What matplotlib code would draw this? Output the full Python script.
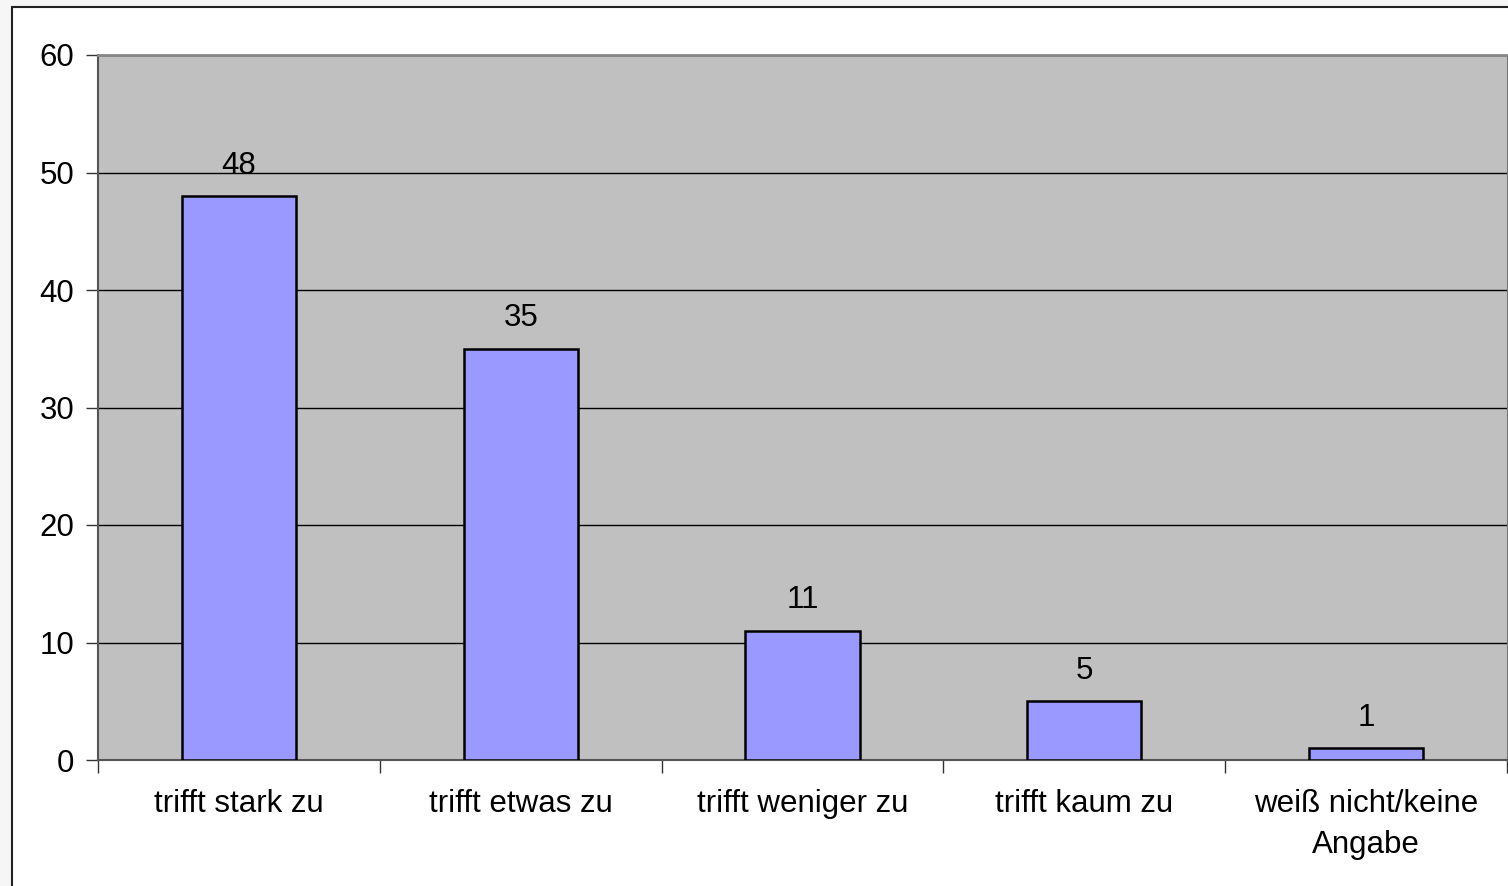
import matplotlib.pyplot as plt
from matplotlib.patches import Rectangle

# Data
categories = ["trifft stark zu", "trifft etwas zu", "trifft weniger zu",
              "trifft kaum zu", "weiß nicht/keine\nAngabe"]
values = [48, 35, 11, 5, 1]
yticks = [0, 10, 20, 30, 40, 50, 60]

plt.rcParams['font.family'] = ['Liberation Sans', 'DejaVu Sans']
FS = 22.5

fig = plt.figure(figsize=(15.08, 8.86), dpi=100, facecolor='#f6f6f6')

# white chart frame
frame = Rectangle((12 / 1508, -0.1), 1.2, (886 - 7) / 886 + 0.1,
                  transform=fig.transFigure, facecolor='white',
                  edgecolor='#222222', linewidth=1.5, zorder=-5)
fig.patches.append(frame)

ax = fig.add_axes([98 / 1508, 1 - 760 / 886, (1507 - 98) / 1508, (760 - 55) / 886])
ax.set_zorder(2)
ax.set_facecolor('#c0c0c0')

x = list(range(len(categories)))
ax.bar(x, values, width=0.405, color='#9999ff', edgecolor='black',
       linewidth=1.8, zorder=3)

for xi, v in zip(x, values):
    ax.annotate(str(v), (xi, v), xytext=(0, 11), textcoords='offset points',
                ha='center', va='bottom', fontsize=FS)

ax.set_xlim(-0.5, len(categories) - 0.5)
ax.set_ylim(0, 60)
ax.set_yticks(yticks)
ax.set_yticklabels([str(t) for t in yticks], fontsize=FS)
ax.yaxis.grid(True, color='black', linewidth=1)
ax.set_axisbelow(True)

# category ticks between bars, labels centred under bars
ax.set_xticks([i - 0.5 for i in range(len(categories) + 1)])
ax.set_xticklabels([])
ax.set_xticks(x, minor=True)
ax.set_xticklabels(categories, minor=True, fontsize=FS, linespacing=1.45)
ax.tick_params(axis='x', which='minor', length=0, pad=21)
ax.tick_params(axis='x', which='major', length=9, width=1, color='#333333')
ax.tick_params(axis='y', length=9, width=1, color='#333333', pad=8)

for side in ['left', 'bottom']:
    ax.spines[side].set_color('#555555')
    ax.spines[side].set_linewidth(1.5)
ax.spines['top'].set_color('#888888')
ax.spines['top'].set_linewidth(2)
ax.spines['right'].set_color('#777777')

fig.savefig('out.png', dpi=100, facecolor=fig.get_facecolor())
